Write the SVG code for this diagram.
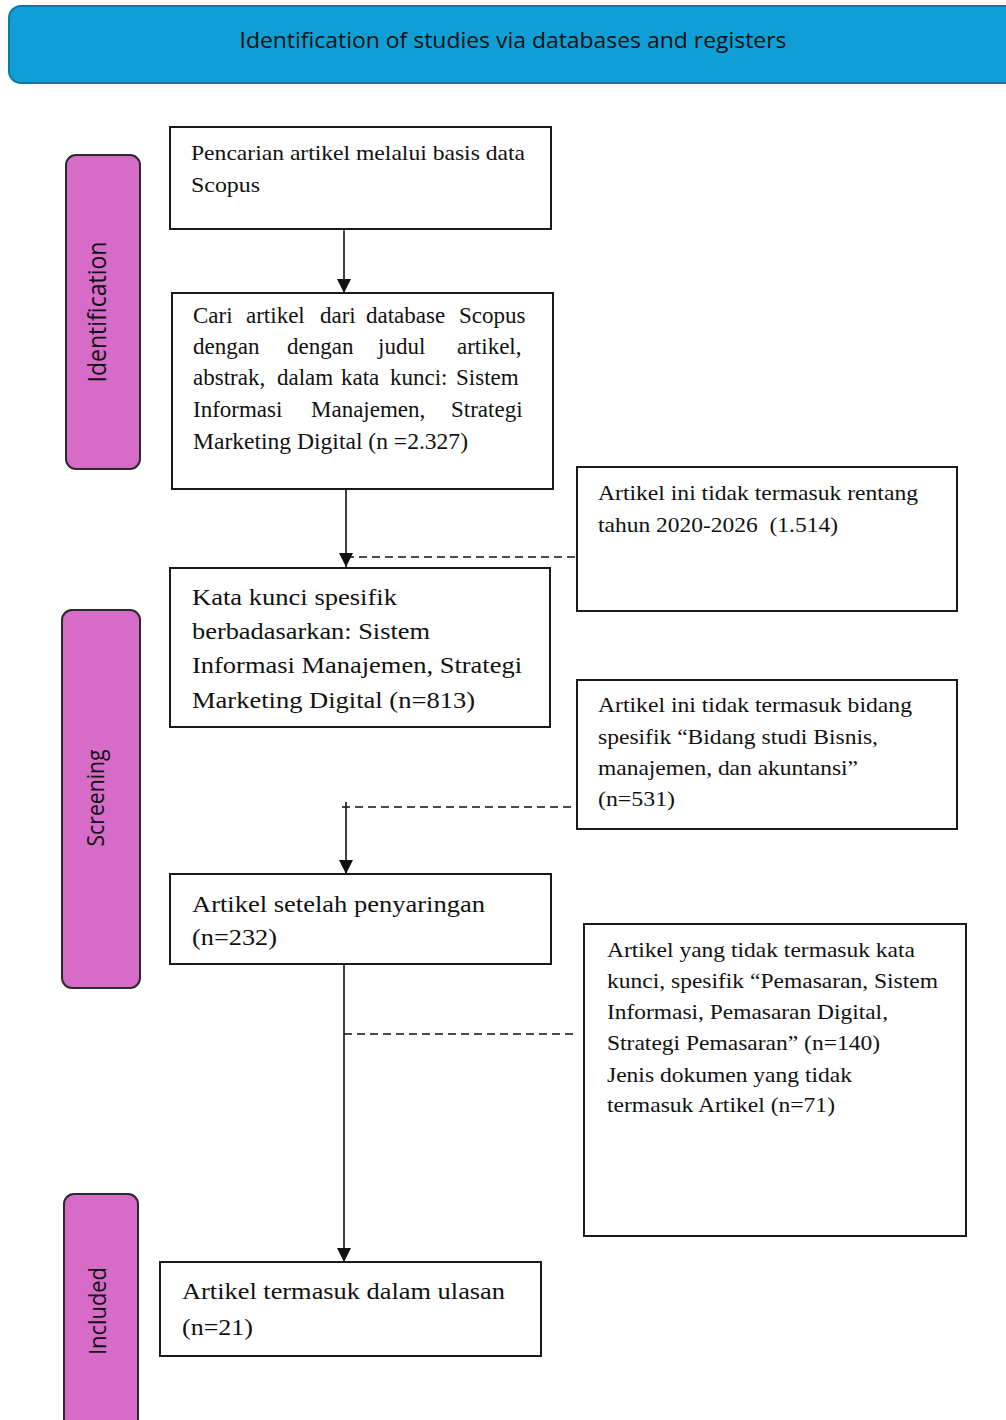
<svg xmlns="http://www.w3.org/2000/svg" width="1006" height="1420" viewBox="0 0 1006 1420">
<defs>
<style>
.hdr{fill:#0f9fd6;stroke:#0b78a6;stroke-width:2}
.lbl{fill:#d66bc8;stroke:#2a2a2a;stroke-width:2}
.box{fill:#fff;stroke:#1a1a1a;stroke-width:2}
.t{font-family:"Liberation Serif","Times New Roman",serif;font-size:22px;fill:#111}
.t2{font-family:"Liberation Serif","Times New Roman",serif;font-size:23px;fill:#111}
.tb{font-family:"Liberation Serif","Times New Roman",serif;font-size:24px;fill:#111}
.s{font-family:"Open Sans","Liberation Sans",sans-serif;fill:#111}
.ln{stroke:#111;stroke-width:1.6;fill:none}
.dash{stroke:#111;stroke-width:1.4;fill:none;stroke-dasharray:8 5}
</style>
<marker id="ah" viewBox="0 0 14 14" refX="14" refY="7" markerWidth="14" markerHeight="14" markerUnits="userSpaceOnUse" orient="auto">
<path d="M0,0 L14,7 L0,14 Z" fill="#111"/>
</marker>
</defs>
<rect width="1006" height="1420" fill="#fff"/>

<g id="header">
<rect class="hdr" x="9" y="6" width="1010" height="77" rx="12"/>
<text class="s" x="513" y="48" font-size="22" text-anchor="middle" textLength="547" lengthAdjust="spacingAndGlyphs">Identification of studies via databases and registers</text>
</g>

<g id="lbl-identification">
<rect class="lbl" x="66" y="155" width="74" height="314" rx="10"/>
<text class="s" font-size="26" text-anchor="middle" transform="translate(106,312) rotate(-90)" textLength="141" lengthAdjust="spacingAndGlyphs">Identification</text>
</g>
<g id="lbl-screening">
<rect class="lbl" x="62" y="610" width="78" height="378" rx="10"/>
<text class="s" font-size="24" text-anchor="middle" transform="translate(104,798) rotate(-90)" textLength="97" lengthAdjust="spacingAndGlyphs">Screening</text>
</g>
<g id="lbl-included">
<rect class="lbl" x="64" y="1194" width="74" height="240" rx="10"/>
<text class="s" font-size="24" text-anchor="middle" transform="translate(106,1311) rotate(-90)" textLength="88" lengthAdjust="spacingAndGlyphs">Included</text>
</g>

<g id="connectors">
<line class="ln" x1="344" y1="229" x2="344" y2="293" marker-end="url(#ah)"/>
<line class="ln" x1="346" y1="489" x2="346" y2="567" marker-end="url(#ah)"/>
<line class="dash" x1="346" y1="557" x2="577" y2="557"/>
<line class="ln" x1="346" y1="802" x2="346" y2="874" marker-end="url(#ah)"/>
<line class="dash" x1="342" y1="807" x2="577" y2="807"/>
<line class="ln" x1="344" y1="964" x2="344" y2="1262" marker-end="url(#ah)"/>
<line class="dash" x1="344" y1="1034" x2="578" y2="1034"/>
</g>

<g id="box1">
<rect class="box" x="170" y="127" width="381" height="102"/>
<text class="t" x="191" y="160" textLength="334" lengthAdjust="spacingAndGlyphs">Pencarian artikel melalui basis data</text>
<text class="t" x="191" y="192" textLength="69" lengthAdjust="spacingAndGlyphs">Scopus</text>
</g>

<g id="box2">
<rect class="box" x="172" y="293" width="381" height="196"/>
<text class="t2" y="323"><tspan x="193">Cari</tspan><tspan x="246">artikel</tspan><tspan x="320">dari</tspan><tspan x="366">database</tspan><tspan x="459">Scopus</tspan></text>
<text class="t2" y="354"><tspan x="193">dengan</tspan><tspan x="287">dengan</tspan><tspan x="378">judul</tspan><tspan x="457">artikel,</tspan></text>
<text class="t2" y="385"><tspan x="193">abstrak,</tspan><tspan x="277">dalam</tspan><tspan x="341">kata</tspan><tspan x="390">kunci:</tspan><tspan x="456">Sistem</tspan></text>
<text class="t2" y="417"><tspan x="193">Informasi</tspan><tspan x="311">Manajemen,</tspan><tspan x="451">Strategi</tspan></text>
<text class="t2" x="193" y="449" textLength="275" lengthAdjust="spacingAndGlyphs">Marketing Digital (n =2.327)</text>
</g>

<g id="excl1">
<rect class="box" x="577" y="467" width="380" height="144"/>
<text class="t" x="598" y="500" textLength="320" lengthAdjust="spacingAndGlyphs">Artikel ini tidak termasuk rentang</text>
<text class="t" x="598" y="532" textLength="240" lengthAdjust="spacingAndGlyphs" xml:space="preserve">tahun 2020-2026  (1.514)</text>
</g>

<g id="box3">
<rect class="box" x="170" y="568" width="380" height="159"/>
<text class="tb" x="192" y="605" textLength="205" lengthAdjust="spacingAndGlyphs">Kata kunci spesifik</text>
<text class="tb" x="192" y="639" textLength="238" lengthAdjust="spacingAndGlyphs">berbadasarkan: Sistem</text>
<text class="tb" x="192" y="673" textLength="330" lengthAdjust="spacingAndGlyphs">Informasi Manajemen, Strategi</text>
<text class="tb" x="192" y="708" textLength="283" lengthAdjust="spacingAndGlyphs">Marketing Digital (n=813)</text>
</g>

<g id="excl2">
<rect class="box" x="577" y="680" width="380" height="149"/>
<text class="t" x="598" y="712" textLength="314" lengthAdjust="spacingAndGlyphs">Artikel ini tidak termasuk bidang</text>
<text class="t" x="598" y="744" textLength="280" lengthAdjust="spacingAndGlyphs">spesifik “Bidang studi Bisnis,</text>
<text class="t" x="598" y="775" textLength="260" lengthAdjust="spacingAndGlyphs">manajemen, dan akuntansi”</text>
<text class="t" x="598" y="806" textLength="77" lengthAdjust="spacingAndGlyphs">(n=531)</text>
</g>

<g id="box4">
<rect class="box" x="170" y="874" width="381" height="90"/>
<text class="tb" x="192" y="912" textLength="293" lengthAdjust="spacingAndGlyphs">Artikel setelah penyaringan</text>
<text class="tb" x="192" y="945" textLength="85" lengthAdjust="spacingAndGlyphs">(n=232)</text>
</g>

<g id="excl3">
<rect class="box" x="584" y="924" width="382" height="312"/>
<text class="t" x="607" y="957" textLength="308" lengthAdjust="spacingAndGlyphs">Artikel yang tidak termasuk kata</text>
<text class="t" x="607" y="988" textLength="331" lengthAdjust="spacingAndGlyphs">kunci, spesifik “Pemasaran, Sistem</text>
<text class="t" x="607" y="1019" textLength="281" lengthAdjust="spacingAndGlyphs">Informasi, Pemasaran Digital,</text>
<text class="t" x="607" y="1050" textLength="273" lengthAdjust="spacingAndGlyphs">Strategi Pemasaran” (n=140)</text>
<text class="t" x="607" y="1082" textLength="245" lengthAdjust="spacingAndGlyphs">Jenis dokumen yang tidak</text>
<text class="t" x="607" y="1112" textLength="228" lengthAdjust="spacingAndGlyphs">termasuk Artikel (n=71)</text>
</g>

<g id="box5">
<rect class="box" x="160" y="1262" width="381" height="94"/>
<text class="tb" x="182" y="1299" textLength="323" lengthAdjust="spacingAndGlyphs">Artikel termasuk dalam ulasan</text>
<text class="tb" x="182" y="1335" textLength="71" lengthAdjust="spacingAndGlyphs">(n=21)</text>
</g>
</svg>
